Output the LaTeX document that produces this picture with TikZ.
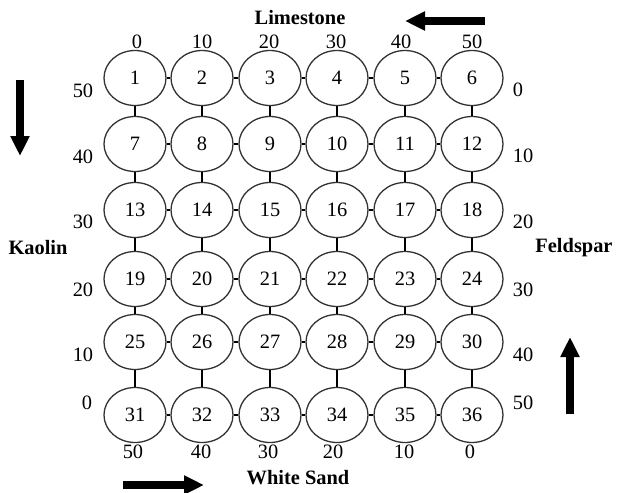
\documentclass[tikz,border=0pt]{standalone}
\usepackage{fontspec}
\setmainfont{Liberation Serif}
\usetikzlibrary{arrows.meta,shapes.geometric}
\begin{document}
\begin{tikzpicture}[x=0.5pt,y=-0.5pt,
  cell/.style={ellipse,draw=black!80,line width=0.65pt,minimum width=31pt,minimum height=27.5pt,inner sep=0pt,font=\fontsize{10.2}{12}\selectfont},
  lab/.style={font=\fontsize{10.2}{12}\selectfont,inner sep=0pt},
  ttl/.style={font=\fontsize{10.2}{12}\selectfont\bfseries,inner sep=0pt},
  link/.style={line width=0.75pt},
  bigarrow/.style={line width=4pt,-{Triangle[length=10pt,width=9pt]}}]
\useasboundingbox (0,0) rectangle (617,493);
\fill[white] (0,0) rectangle (617,493);
% cells
\foreach \yy [count=\r] in {78,144,210,279,342,415}{
  \foreach \xx [count=\c] in {135,202,270,337,405,472}{
    \pgfmathtruncatemacro\n{(\r-1)*6+\c}
    \node[cell] (n\n) at (\xx,\yy) {\n};
  }
}
% horizontal links
\foreach \r in {0,...,5}{
  \foreach \c in {1,...,5}{
    \pgfmathtruncatemacro\a{\r*6+\c}
    \pgfmathtruncatemacro\b{\r*6+\c+1}
    \draw[link] (n\a) -- (n\b);
  }
}
% vertical links
\foreach \r in {0,...,4}{
  \foreach \c in {1,...,6}{
    \pgfmathtruncatemacro\a{\r*6+\c}
    \pgfmathtruncatemacro\b{\r*6+\c+6}
    \draw[link] (n\a) -- (n\b);
  }
}
% top labels
\foreach \xx/\t [count=\i] in {137/0,202/10,269/20,336/30,401/40,472/50}
  \node[lab] (t\i) at (\xx,42) {\t};
% bottom labels
\foreach \xx/\t [count=\i] in {133/50,201/40,268/30,333/20,404/10,470/0}
  \node[lab] (b\i) at (\xx,452) {\t};
% left labels
\foreach \yy/\t [count=\i] in {91/50,157/40,222/30,290/20,355/10}
  \node[lab] (l\i) at (83,\yy) {\t};
\node[lab] (l6) at (87,403) {0};
% right labels
\node[lab] (r1) at (518,90) {0};
\foreach \yy/\t [count=\i from 2] in {156/10,222/20,290/30,355/40,403/50}
  \node[lab] (r\i) at (523,\yy) {\t};
% titles
\node[ttl] (lime) at (300,18) {Limestone};
\node[ttl] (sand) at (298,478) {White Sand};
\node[ttl] (kao) at (38,248) {Kaolin};
\node[ttl] (feld) at (574,248) {Feldspar};
% arrows
\coordinate (a1s) at (485,21);
\coordinate (a1e) at (405,21);
\coordinate (a2s) at (123,485);
\coordinate (a2e) at (204,485);
\coordinate (a3s) at (20,80);
\coordinate (a3e) at (20,156);
\coordinate (a4s) at (570,414);
\coordinate (a4e) at (570,337);
\draw[bigarrow] (a1s) -- (a1e);
\draw[bigarrow] (a2s) -- (a2e);
\draw[bigarrow] (a3s) -- (a3e);
\draw[bigarrow] (a4s) -- (a4e);
\end{tikzpicture}
\end{document}
